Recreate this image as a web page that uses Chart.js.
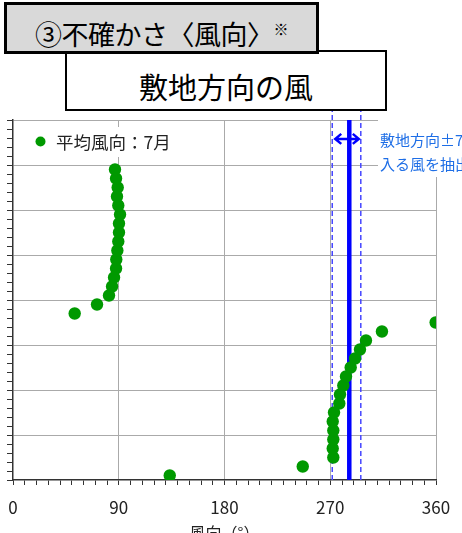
<!DOCTYPE html>
<html lang="ja">
<head>
<meta charset="utf-8">
<script src="https://cdn.jsdelivr.net/npm/chart.js@4.4.1/dist/chart.umd.min.js"></script>
<style>
  body { margin: 0; overflow: hidden; background: #fff; }
  #wrap { position: relative; width: 462px; height: 533px; overflow: hidden; font-family: 'Noto Sans CJK JP', sans-serif; }
  #chart { position: absolute; left: 0; top: 0; }
  .box { position: absolute; box-sizing: border-box; border: 2px solid #000; }
  #box1 { left: 4px; top: 2px; width: 315px; height: 52px; background: #d9d9d9; border-width: 3px; z-index: 3; }
  #box2 { left: 65px; top: 50px; width: 322px; height: 61px; background: #fff; z-index: 2; }
  #box1 span { position: absolute; left: 28px; top: 10px; font-size: 27px; line-height: 27px; color: #000; white-space: nowrap; letter-spacing: -0.5px; }
  #box1 sup { font-size: 15px; vertical-align: 10px; }
  #box2 span { position: absolute; left: 0; right: 0; top: 20px; text-align: center; font-size: 29px; line-height: 29px; color: #000; white-space: nowrap; }
</style>
</head>
<body>
<div id="wrap">
  <canvas id="chart" width="462" height="545"></canvas>
  <div class="box" id="box1"><span>③不確かさ〈風向〉<sup>※</sup></span></div>
  <div class="box" id="box2"><span>敷地方向の風</span></div>
</div>
<script>
// --- data ---
const rank = [0.5, 1.5, 2.5, 3.5, 4.5, 5.5, 6.5, 7.5, 8.5, 9.5,
              10.5, 11.5, 12.5, 13.5, 14.5, 15.5, 16.5, 17.5, 18.5, 19.5,
              20.5, 21.5, 22.5, 23.5, 24.5, 25.5, 26.5, 27.5, 28.5, 29.5,
              30.5, 31.5, 32.5, 33.5, 34.5];
const windDir = [133.4, 246.6, 272.6, 272.1, 272.6, 272.6, 272.1, 273.2, 277.7, 278.3,
                 281.1, 283.4, 287.4, 291.1, 295.3, 300.4, 314.0, 359.7, 52.5, 71.5,
                 81.7, 84.3, 86.0, 87.7, 87.9, 88.8, 89.6, 90.2, 90.2, 91.1,
                 89.6, 88.5, 89.1, 87.7, 86.8];
const xLabels = [0, 90, 180, 270, 360];
const siteDir = 286.2;          // 敷地方向
const bandEdges = [271.7, 296.0];
const legendText = '平均風向：7月';
const noteLines = ['敷地方向±7.5°の範囲に', '入る風を抽出'];

const FONT = "'Noto Sans CJK JP', sans-serif";
const GREEN = '#009900';

const extras = {
    id: 'extras',
    afterDraw(chart) {
        const { ctx } = chart;
        const xs = chart.scales.x, ys = chart.scales.y;
        ctx.save();

        // double arrow between the band edges
        const ay = ys.getPixelForValue(37.9);
        const x1 = xs.getPixelForValue(bandEdges[0]) + 3;
        const x2 = xs.getPixelForValue(bandEdges[1]) - 2;
        ctx.strokeStyle = '#0000ff';
        ctx.lineWidth = 2.5;
        ctx.beginPath();
        ctx.moveTo(x1, ay); ctx.lineTo(x2, ay);
        ctx.moveTo(x1 + 6, ay - 5); ctx.lineTo(x1, ay); ctx.lineTo(x1 + 6, ay + 5);
        ctx.moveTo(x2 - 6, ay - 5); ctx.lineTo(x2, ay); ctx.lineTo(x2 - 6, ay + 5);
        ctx.stroke();

        // legend
        ctx.fillStyle = '#fff';
        ctx.fillRect(28, 127, 150, 30);
        ctx.fillStyle = GREEN;
        ctx.beginPath();
        ctx.arc(40.5, 141.5, 5, 0, Math.PI * 2);
        ctx.fill();
        ctx.fillStyle = '#222';
        ctx.font = '17.5px ' + FONT;
        ctx.textBaseline = 'middle';
        ctx.fillText(legendText, 56, 142);

        // note on the right
        ctx.fillStyle = '#fff';
        ctx.fillRect(378, 112, 90, 65);
        ctx.fillStyle = '#1e6ee6';
        ctx.font = '15px ' + FONT;
        ctx.fillText(noteLines[0], 380, 140);
        ctx.fillText(noteLines[1], 380, 164);
        ctx.restore();
    }
};

new Chart(document.getElementById('chart'), {
    type: 'scatter',
    data: {
        datasets: [
            {
                label: legendText,
                data: rank.map((r, i) => ({ x: windDir[i], y: r })),
                backgroundColor: GREEN,
                borderWidth: 0,
                pointRadius: 6.2,
                order: 0
            },
            {
                type: 'line',
                data: [{ x: siteDir, y: 0 }, { x: siteDir, y: 40 }],
                borderColor: '#0000ff',
                borderWidth: 4.5,
                pointRadius: 0,
                order: 1
            },
            {
                type: 'line',
                data: [{ x: bandEdges[0], y: 0 }, { x: bandEdges[0], y: 41.3 }],
                borderColor: '#4646ff',
                borderWidth: 1.5,
                borderDash: [5, 3],
                pointRadius: 0,
                clip: false,
                order: 2
            },
            {
                type: 'line',
                data: [{ x: bandEdges[1], y: 0 }, { x: bandEdges[1], y: 41.3 }],
                borderColor: '#4646ff',
                borderWidth: 1.5,
                borderDash: [5, 3],
                pointRadius: 0,
                clip: false,
                order: 2
            }
        ]
    },
    options: {
        responsive: false,
        animation: false,
        layout: { padding: { top: 120, right: 26, left: 0, bottom: 0 } },
        plugins: { legend: { display: false }, tooltip: { enabled: false } },
        scales: {
            x: {
                type: 'linear',
                min: 0, max: 360,
                afterFit: s => { s.height = 65; s.paddingLeft = 0; s.paddingRight = 0; },
                ticks: {
                    stepSize: 10, autoSkip: false, maxRotation: 0, padding: 12,
                    color: '#222', font: { family: FONT, size: 17 },
                    callback: v => xLabels.includes(v) ? String(v) : ''
                },
                grid: {
                    color: c => (c.tick && c.tick.value % 90 === 0 && c.tick.value > 0) ? '#aaaaaa' : 'rgba(0,0,0,0)',
                    tickColor: '#333', tickLength: 5
                },
                border: { color: '#333', width: 1.5 },
                title: {
                    display: true, text: '風向（°）', color: '#222',
                    font: { family: FONT, size: 16 }, padding: { top: 0, bottom: 2 }
                }
            },
            y: {
                min: 0, max: 40,
                afterFit: s => { s.width = 13; },
                ticks: { stepSize: 1, autoSkip: false, callback: () => '' },
                grid: {
                    color: c => (c.tick && c.tick.value % 5 === 0 && c.tick.value > 0) ? '#aaaaaa' : 'rgba(0,0,0,0)',
                    tickColor: '#333', tickLength: 6
                },
                border: { color: '#333', width: 1.5 }
            }
        }
    },
    plugins: [extras]
});
</script>
</body>
</html>
